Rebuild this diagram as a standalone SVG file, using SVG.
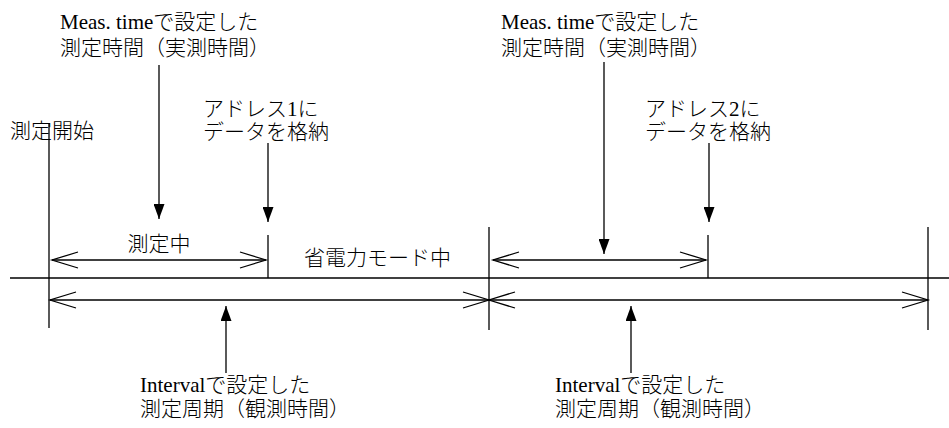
<svg xmlns="http://www.w3.org/2000/svg" width="949" height="428" viewBox="0 0 949 428">
<style>
text{font-family:"Liberation Serif","Noto Sans CJK JP",serif;font-size:21px;fill:#000;font-weight:300}
line{stroke:#000;stroke-width:1.3;fill:none}
.open{stroke:#000;stroke-width:1.3;fill:none}
</style>
<defs>
<marker id="fa" viewBox="0 0 15 11" refX="15" refY="5.5" markerWidth="15" markerHeight="11" markerUnits="userSpaceOnUse" orient="auto">
<path d="M0,0 L15,5.5 L0,11 Z" fill="#000"/>
</marker>
</defs>
<rect width="949" height="428" fill="#fff"/>
<g id="labels">
<g id="meas1"><text x="60" y="29">Meas. timeで設定した</text><text x="60" y="55">測定時間（実測時間）</text></g>
<g id="start"><text x="10" y="138">測定開始</text></g>
<g id="addr1"><text x="203" y="116">アドレス1に</text><text x="203" y="139">データを格納</text></g>
<g id="measuring"><text x="159" y="251" text-anchor="middle">測定中</text></g>
<g id="powersave"><text x="304" y="265">省電力モード中</text></g>
<g id="interval1"><text x="140" y="392">Intervalで設定した</text><text x="140" y="416">測定周期（観測時間）</text></g>
<g id="meas2"><text x="501" y="29">Meas. timeで設定した</text><text x="501" y="55">測定時間（実測時間）</text></g>
<g id="addr2"><text x="645" y="116">アドレス2に</text><text x="645" y="139">データを格納</text></g>
<g id="interval2"><text x="555" y="392">Intervalで設定した</text><text x="555" y="416">測定周期（観測時間）</text></g>
</g>
<g id="connectors">
<line x1="10" y1="278" x2="949" y2="278"/>
<line x1="49" y1="123" x2="49" y2="328"/>
<line x1="489" y1="227" x2="489" y2="330"/>
<line x1="928" y1="227" x2="928" y2="330"/>
<line x1="268" y1="235" x2="268" y2="278"/>
<line x1="708" y1="235" x2="708" y2="278"/>
<line x1="52" y1="260" x2="266" y2="260"/>
<path class="open" d="M78,252 L52,260 L78,268 M240,252 L266,260 L240,268"/>
<line x1="493" y1="260" x2="706" y2="260"/>
<path class="open" d="M519,252 L493,260 L519,268 M680,252 L706,260 L680,268"/>
<line x1="50" y1="300" x2="928" y2="300"/>
<path class="open" d="M76,292 L50,300 L76,308 M463,292 L489,300 L463,308 M515,292 L489,300 L515,308 M902,292 L928,300 L902,308"/>
<line x1="159" y1="65" x2="159" y2="219" marker-end="url(#fa)"/>
<line x1="268" y1="143" x2="268" y2="222" marker-end="url(#fa)"/>
<line x1="604" y1="62" x2="604" y2="254" marker-end="url(#fa)"/>
<line x1="709" y1="143" x2="709" y2="222" marker-end="url(#fa)"/>
<line x1="226" y1="373" x2="226" y2="306" marker-end="url(#fa)"/>
<line x1="631" y1="373" x2="631" y2="306" marker-end="url(#fa)"/>
</g>
</svg>
